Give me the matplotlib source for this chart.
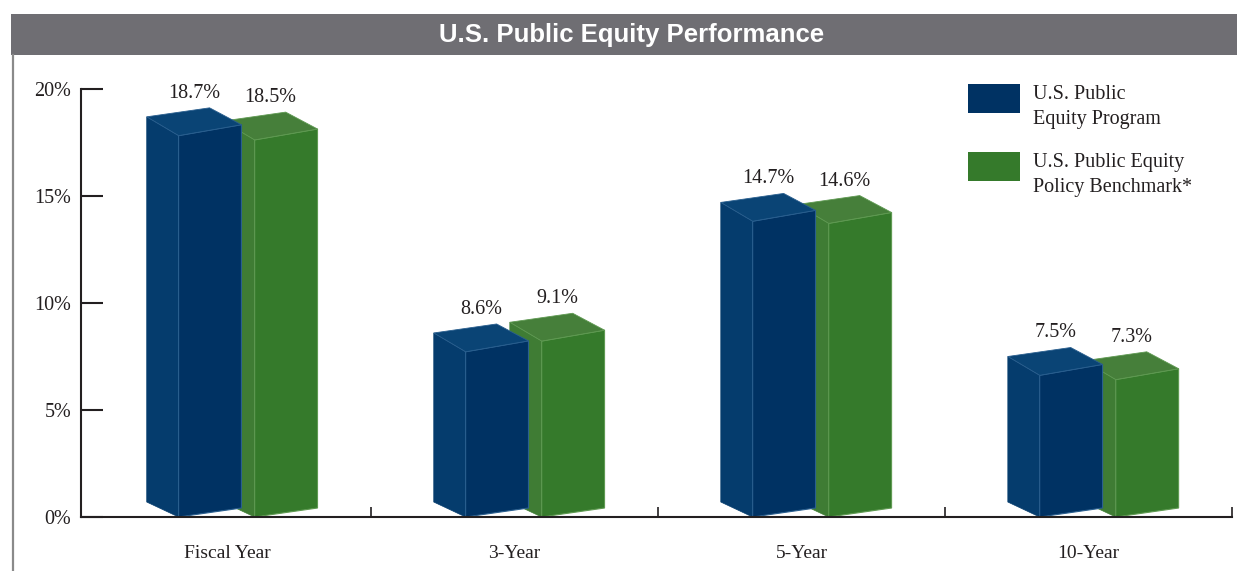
import matplotlib
matplotlib.use("Agg")
import matplotlib.pyplot as plt
from matplotlib.patches import Polygon, Rectangle
from matplotlib.lines import Line2D

categories = ["Fiscal Year", "3-Year", "5-Year", "10-Year"]
program = [18.7, 8.6, 14.7, 7.5]
benchmark = [18.5, 9.1, 14.6, 7.3]
series_names = [["U.S. Public", "Equity Program"], ["U.S. Public Equity", "Policy Benchmark*"]]
yticks = [0, 5, 10, 15, 20]
ytick_labels = ["0%", "5%", "10%", "15%", "20%"]
title = "U.S. Public Equity Performance"

# colours: (front face, side face, top face, edge highlight)
blue = ("#003263", "#053c6d", "#0a4475", "#2a5f8f")
green = ("#357a2b", "#3f7c34", "#467f3a", "#5f9a52")

SERIF = ["Liberation Serif", "DejaVu Serif"]
SANS = ["Liberation Sans", "DejaVu Sans"]
TXT = "#231f20"

W, H = 1237, 571
fig = plt.figure(figsize=(W / 100, H / 100), dpi=100)
fig.patch.set_facecolor("white")

# title bar
fig.patches.append(Rectangle((11 / W, 1 - 55 / H), 1 - 11 / W, 41 / H,
                             transform=fig.transFigure, facecolor="#6f6e73",
                             edgecolor="none", zorder=0))
fig.text(632 / W, 1 - 35 / H, title, color="white", fontsize=18.5,
         fontweight="bold", family=SANS, ha="center", va="center")
fig.add_artist(Line2D([12.5 / W, 12.5 / W], [0, 1 - 55 / H], transform=fig.transFigure,
                      color="#8a8a8a", lw=1.6))

ax = fig.add_axes([81 / W, 1 - 517 / H, (1232 - 81) / W, (517 - 89) / H])
ax.set_xlim(-0.51, 3.5)
ax.set_ylim(0, 20)

# 3-D box geometry (category units / percent)
LW, FW = 0.111, 0.219          # left-face width, front-face width
DL, DR = 0.70, 0.42            # vertical offsets of left/right bottom corners
SHRINK = 0.18                  # perspective: front edge slightly shorter


def draw_box(x0, value, cols, z):
    front, side, top, edge = cols
    h = value - DL
    xl, xr, xb = x0 - LW, x0 + FW, x0 - LW + FW
    yl, yr, yb = DL, DR, DL + DR
    hf = h - SHRINK
    left_face = [(xl, yl), (x0, 0), (x0, hf), (xl, yl + h)]
    front_face = [(x0, 0), (xr, yr), (xr, yr + h - SHRINK / 2), (x0, hf)]
    top_face = [(xl, yl + h), (x0, hf), (xr, yr + h - SHRINK / 2), (xb, yb + h)]
    ax.add_patch(Polygon(left_face, closed=True, facecolor=side, edgecolor=side,
                         lw=0.5, zorder=z))
    ax.add_patch(Polygon(front_face, closed=True, facecolor=front, edgecolor=edge,
                         lw=0.8, zorder=z + 0.1))
    ax.add_patch(Polygon(top_face, closed=True, facecolor=top, edgecolor=edge,
                         lw=0.6, zorder=z + 0.2))
    ax.text((xl + xr) / 2, value + 1.1, f"{value:.1f}%", ha="center", va="center",
            fontsize=14.5, family=SERIF, color=TXT, zorder=10)


for i in range(len(categories)):
    draw_box(i + 0.095, benchmark[i], green, 2 + i)
    draw_box(i - 0.17, program[i], blue, 2.5 + i)

# axes styling
for s in ("top", "right"):
    ax.spines[s].set_visible(False)
for s in ("left", "bottom"):
    ax.spines[s].set_linewidth(1.5)
    ax.spines[s].set_color(TXT)
    ax.spines[s].set_zorder(20)

ax.set_yticks(yticks)
ax.set_yticklabels(ytick_labels, family=SERIF, fontsize=14.5, color=TXT)
ax.tick_params(axis="y", direction="in", length=16, width=1.5, color=TXT, pad=7)

ax.set_xticks([0.5, 1.5, 2.5, 3.5])
ax.set_xticklabels([])
ax.set_xticks(range(len(categories)), minor=True)
ax.set_xticklabels(categories, minor=True, family=SERIF, fontsize=14, color=TXT)
ax.tick_params(axis="x", which="major", direction="in", length=7, width=1.2, color=TXT)
ax.tick_params(axis="x", which="minor", length=0, pad=20)

# legend
for k, (lines, cols) in enumerate(zip(series_names, [blue, green])):
    ytop = 84 + k * 68
    fig.patches.append(Rectangle((968 / W, 1 - (ytop + 29) / H), 52 / W, 29 / H,
                                 transform=fig.transFigure, facecolor=cols[0],
                                 edgecolor="none"))
    for j, line in enumerate(lines):
        fig.text(1033 / W, 1 - (ytop + 15 + 25 * j) / H, line, family=SERIF,
                 fontsize=14.5, color=TXT, ha="left", va="baseline")

fig.savefig("out.png", dpi=100)
